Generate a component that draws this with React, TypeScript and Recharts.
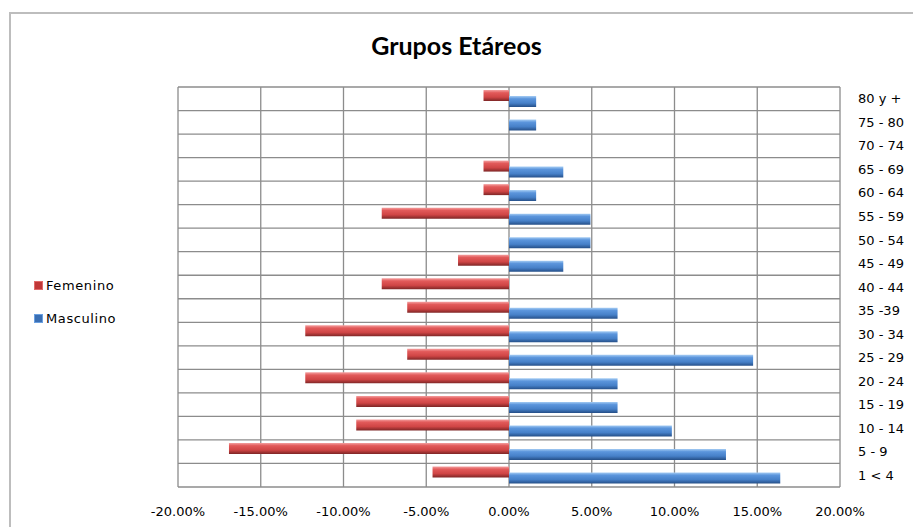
import React from "react";
import { Bar, BarChart, CartesianGrid, XAxis, YAxis } from "recharts";

// grupos de edad, de arriba hacia abajo
const grupos = ["80 y +", "75 - 80", "70 - 74", "65 - 69", "60 - 64", "55 - 59", "50 - 54", "45 - 49", "40 - 44", "35 -39", "30 - 34", "25 - 29", "20 - 24", "15 - 19", "10 - 14", "5 - 9", "1 < 4"];
const femenino = [-1.54, 0, 0, -1.54, -1.54, -7.69, 0, -3.08, -7.69, -6.15, -12.31, -6.15, -12.31, -9.23, -9.23, -16.92, -4.62];
const masculino = [1.64, 1.64, 0, 3.28, 1.64, 4.92, 4.92, 3.28, 0, 6.56, 6.56, 14.75, 6.56, 6.56, 9.84, 13.11, 16.39];
const ticksX = [-20, -15, -10, -5, 0, 5, 10, 15, 20];

const data = grupos.map((g, i) => ({ grupo: g, femenino: femenino[i], masculino: masculino[i] }));

const fontTicks = "'DejaVu Sans', Tahoma, sans-serif";

const cuadro = (claro: string, oscuro: string) => (
  <svg width={9} height={9} style={{ marginRight: 3, flexShrink: 0 }}>
    <rect x={0} y={0} width={9} height={9} fill={claro} />
    <rect x={1} y={1} width={7} height={7} fill={oscuro} />
  </svg>
);

const Leyenda = () => (
  <div style={{ position: "absolute", left: 34, top: 276, fontFamily: fontTicks, fontSize: 13, color: "#000", letterSpacing: 0.6 }}>
    <div style={{ display: "flex", alignItems: "center", height: 18 }}>
      {cuadro("#e06a6a", "#c03838")}
      Femenino
    </div>
    <div style={{ display: "flex", alignItems: "center", height: 18, marginTop: 15 }}>
      {cuadro("#6a9fe0", "#3a6fb4")}
      Masculino
    </div>
  </div>
);

export default function App() {
  return (
    <div style={{ position: "relative", width: 913, height: 527, overflow: "hidden", background: "#fff" }}>
      <style>{`body{margin:0}`}</style>
      {/* borde del area del grafico, cortado a la derecha y abajo */}
      <div style={{ position: "absolute", left: 9, top: 12, width: 1000, height: 1000, borderLeft: "2px solid #bdbdbd", borderTop: "2px solid #bdbdbd" }} />
      <div style={{ position: "absolute", left: 0, top: 30, width: 913, textAlign: "center", fontFamily: "Lato, 'Liberation Sans', sans-serif", fontWeight: "bold", fontSize: 25 }}>
        Grupos Etáreos
      </div>
      <Leyenda />
      <div style={{ position: "absolute", left: 0, top: 0 }}>
        <BarChart width={913} height={527} data={data} layout="vertical" margin={{ top: 87, left: 178, right: 0, bottom: 0 }} barSize={11} barGap={-5}>
          <defs>
            <linearGradient id="gradRojo" x1="0" y1="0" x2="0" y2="1">
              <stop offset="0%" stopColor="#f4a0a0" />
              <stop offset="25%" stopColor="#e25a5a" />
              <stop offset="65%" stopColor="#cf4545" />
              <stop offset="100%" stopColor="#7e2626" />
            </linearGradient>
            <linearGradient id="gradAzul" x1="0" y1="0" x2="0" y2="1">
              <stop offset="0%" stopColor="#a6cdf4" />
              <stop offset="25%" stopColor="#5b95dc" />
              <stop offset="65%" stopColor="#4680c8" />
              <stop offset="100%" stopColor="#254f88" />
            </linearGradient>
          </defs>
          <CartesianGrid
            stroke="#8c8c8c"
            strokeWidth={1.3}
            horizontalCoordinatesGenerator={({ offset }: any) =>
              grupos.map((_, i) => offset.top + (i * offset.height) / grupos.length).concat(offset.top + offset.height)
            }
          />
          <XAxis
            type="number"
            domain={[-20, 20]}
            ticks={ticksX}
            tickFormatter={(v: number) => `${v.toFixed(2)}%`}
            axisLine={false}
            tickLine={false}
            tickMargin={14}
            height={40}
            tick={{ fontFamily: fontTicks, fontSize: 13, fill: "#000" }}
            interval={0}
          />
          <YAxis
            type="category"
            dataKey="grupo"
            orientation="right"
            width={73}
            axisLine={false}
            tickLine={false}
            tickMargin={12}
            interval={0}
            tick={{ fontFamily: fontTicks, fontSize: 13, fill: "#000", textAnchor: "start" }}
          />
          <Bar dataKey="femenino" name="Femenino" fill="url(#gradRojo)" isAnimationActive={false} />
          <Bar dataKey="masculino" name="Masculino" fill="url(#gradAzul)" isAnimationActive={false} />
        </BarChart>
      </div>
    </div>
  );
}
